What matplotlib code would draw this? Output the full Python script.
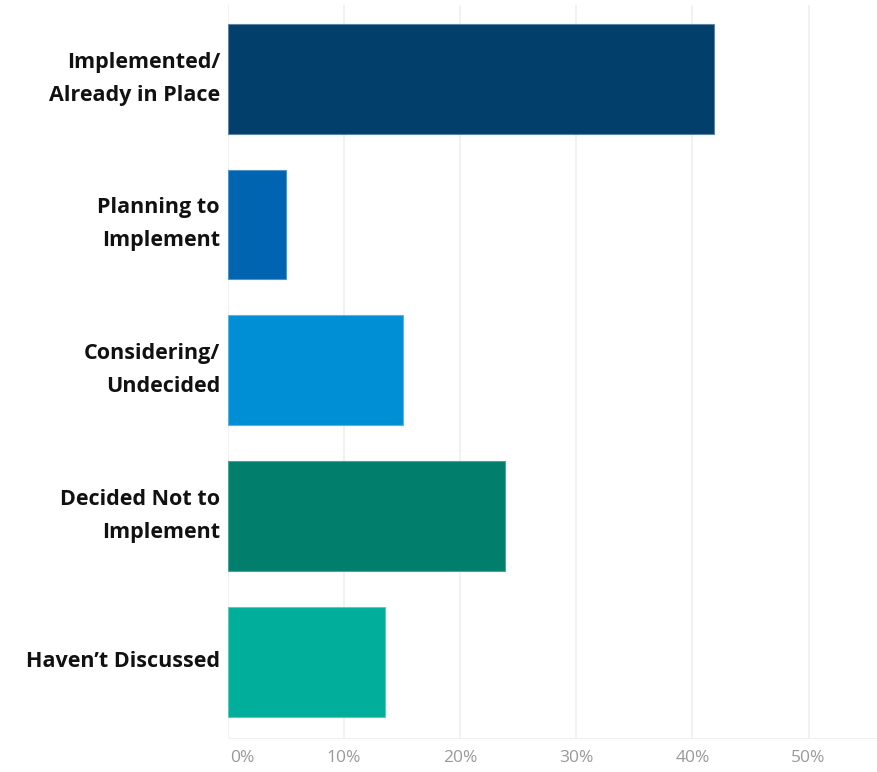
import matplotlib.pyplot as plt
from matplotlib.transforms import blended_transform_factory

# Survey responses (share of respondents)
categories = ['Implemented/\nAlready in Place', 'Planning to\nImplement',
              'Considering/\nUndecided', 'Decided Not to\nImplement',
              "Haven\u2019t Discussed"]
shares = [0.419, 0.050, 0.151, 0.239, 0.135]
colors = ['#023f6b', '#0064b0', '#008ed5', '#017e6c', '#00ae9b']
edges = ['#5b85a6', '#4f95cc', '#5ab3e2', '#4aa596', '#5fcab9']
tick_vals = [0, 0.1, 0.2, 0.3, 0.4, 0.5]
tick_labels = ['0%', '10%', '20%', '30%', '40%', '50%']

fig = plt.figure(figsize=(8.77, 7.72), dpi=100)
ax = fig.add_axes([228 / 877, 1 - 739 / 772, 1 - 228 / 877, 734 / 772])

ypos = range(len(categories))
ax.barh(ypos, shares, height=0.753, color=colors, edgecolor=edges,
        linewidth=0.8, zorder=2)

ax.set_xlim(0, 0.559)
ax.set_ylim(len(categories) - 0.47, -0.505)

# light vertical gridlines and bottom axis line
for v in tick_vals:
    ax.axvline(v, color='#f0f0f0', linewidth=1.2, zorder=1)
ax.axhline(len(categories) - 0.47, color='#f0f0f0', linewidth=1.5, zorder=1)

for s in ax.spines.values():
    s.set_visible(False)
ax.set_xticks([])
ax.set_yticks([])

# category labels
for y, lab in zip(ypos, categories):
    ax.text(-0.0069, y, lab, ha='right', va='center', fontsize=15.5,
            fontweight='bold', family='Open Sans', color='#111111',
            linespacing=1.75)

# tick labels below the axis
tick_trans = blended_transform_factory(ax.transData, fig.transFigure)
for v, lab in zip(tick_vals, tick_labels):
    ha = 'left' if v == 0 else 'center'
    x = v + 0.002 if v == 0 else v
    ax.text(x, 1 - 758 / 772, lab, ha=ha, va='center', fontsize=12.5,
            family='Open Sans', color='#999999', transform=tick_trans)

fig.savefig('out.png', dpi=100, facecolor='white')
